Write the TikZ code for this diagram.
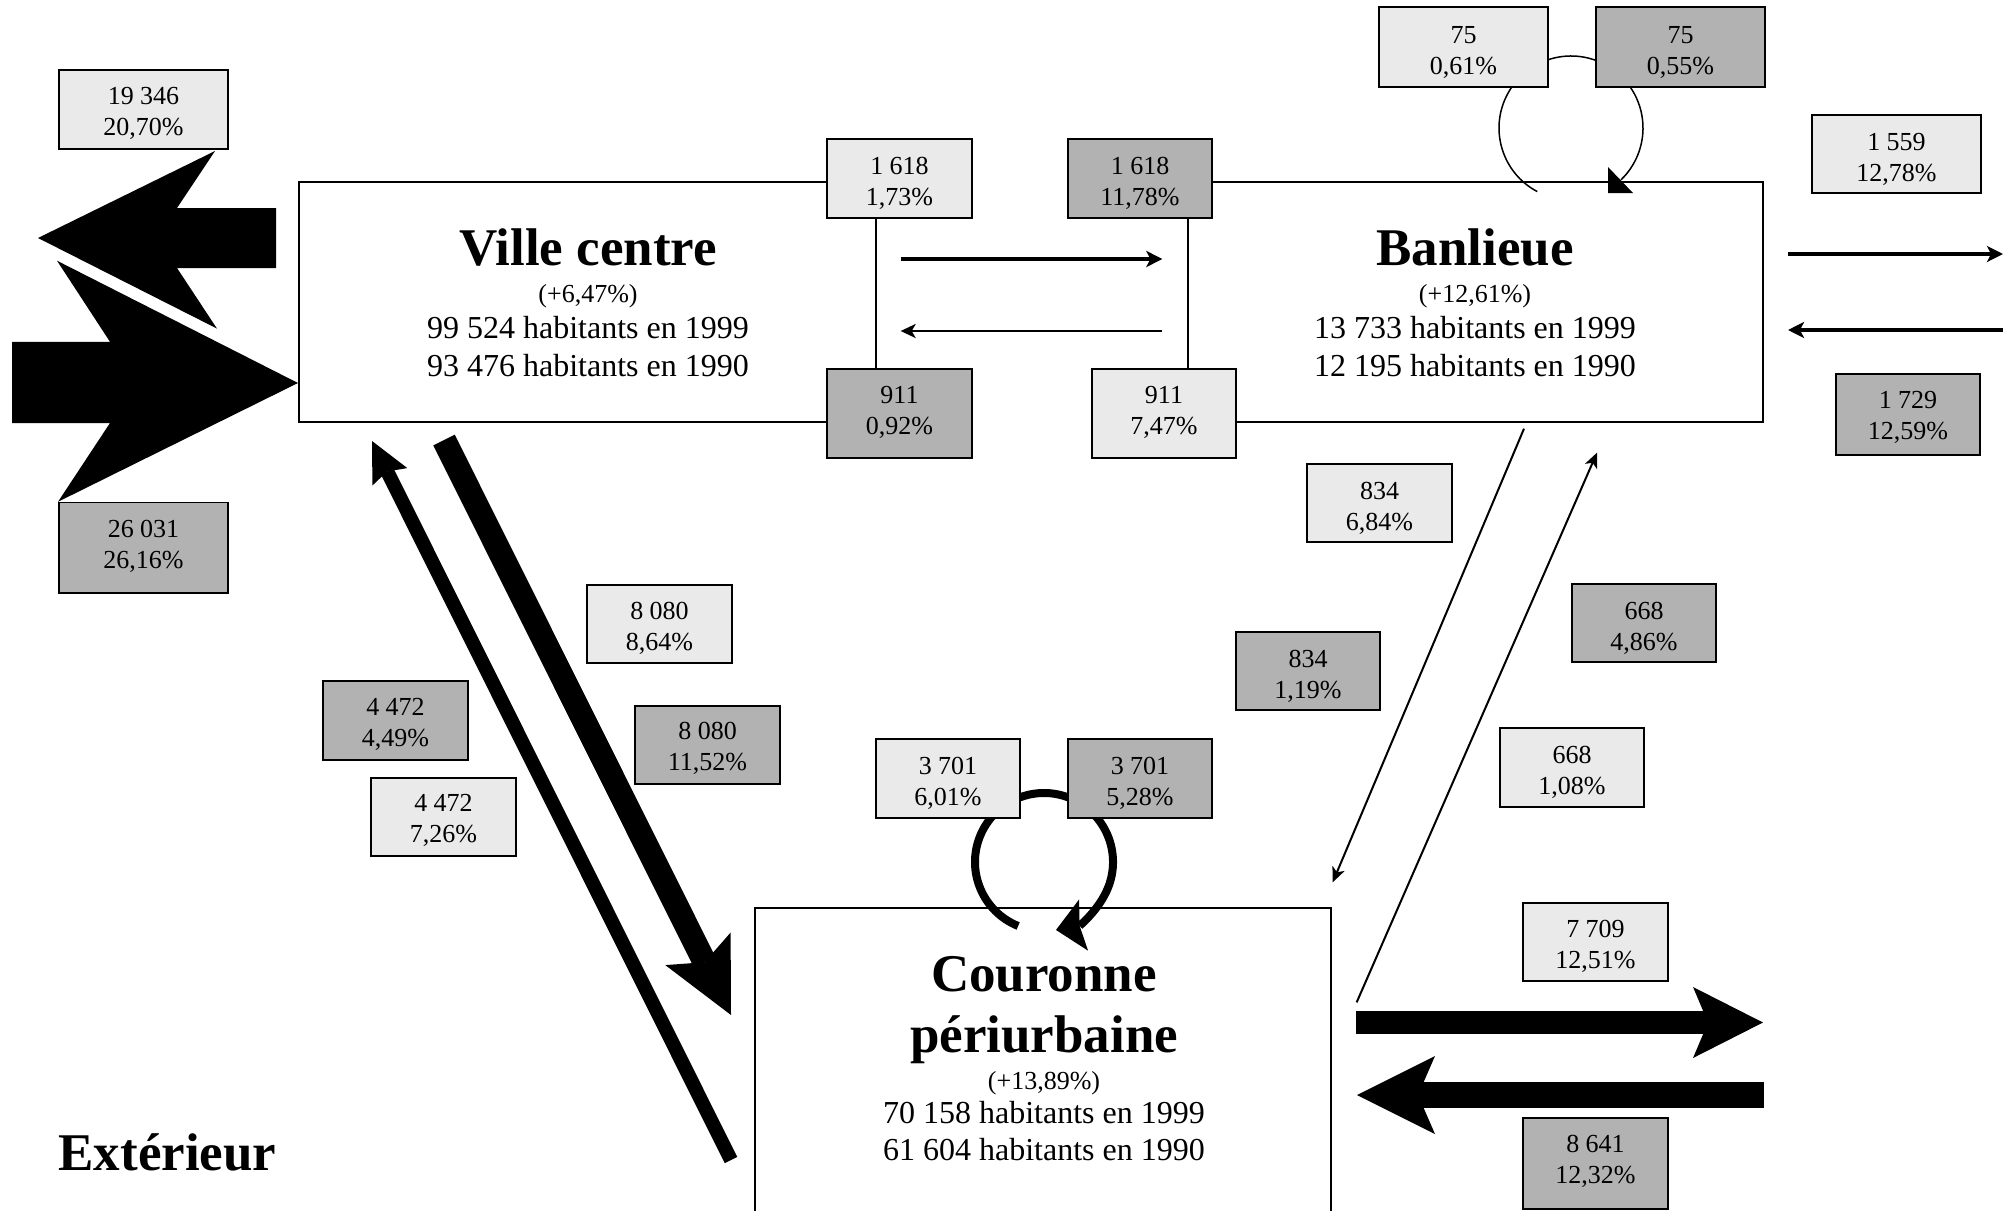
\documentclass[tikz,border=0pt]{standalone}
\usepackage{fontspec}
\setmainfont{Liberation Serif}
\usetikzlibrary{arrows.meta}
\definecolor{lightbox}{HTML}{EAEAEA}
\definecolor{darkbox}{HTML}{B2B2B2}
\newcommand\twol[3]{\raisebox{-#3pt}[\height][\depth]{\begin{tabular}{@{}c@{}}#1\\#2\end{tabular}}}
\begin{document}
\begin{tikzpicture}[x=1pt,y=-1pt,
  bx/.style={draw, line width=1.6pt, inner sep=0pt, font=\fontsize{26}{31}\selectfont},
  lb/.style={bx, fill=lightbox},
  db/.style={bx, fill=darkbox},
  sz/.style 2 args={minimum width=#1pt, minimum height=#2pt},
  zone/.style={draw, line width=1.3pt, fill=white, inner sep=0pt},
  ttl/.style={anchor=base, font=\fontsize{53}{60}\selectfont\bfseries},
  pct/.style={anchor=base, font=\fontsize{26}{31}\selectfont},
  hab/.style={anchor=base, font=\fontsize{32}{37}\selectfont},
  thin/.style={line width=2pt, -{Stealth[length=15pt,width=13pt,inset=4pt]}},
  mid/.style={line width=4pt, -{Stealth[length=16pt,width=16pt,inset=4pt]}}
]
\useasboundingbox (0,0) rectangle (2013,1210);
\clip (0,0) rectangle (2013,1210);

% main zones
\node[zone, sz={577}{240}] (vc) at (587.5,302) {};
\node[zone, sz={575}{240}] (bl) at (1475.5,302) {};
\node[zone, sz={576}{352}] (cp) at (1043,1084) {};

\node[ttl] (vct) at (588,265.5) {Ville centre};
\node[pct] (vcp) at (588,302) {(+6,47\%)};
\node[hab] (vch1) at (588,338) {99 524 habitants en 1999};
\node[hab] (vch2) at (588,376) {93 476 habitants en 1990};

\node[ttl] (blt) at (1475,265.5) {Banlieue};
\node[pct] (blp) at (1475,302) {(+12,61\%)};
\node[hab] (blh1) at (1475,338) {13 733 habitants en 1999};
\node[hab] (blh2) at (1475,376) {12 195 habitants en 1990};

\node[ttl] (cpt1) at (1044,991) {Couronne};
\node[ttl] (cpt2) at (1044,1052) {périurbaine};
\node[pct] (cpp) at (1044,1089) {(+13,89\%)};
\node[hab] (cph1) at (1044,1123) {70 158 habitants en 1999};
\node[hab] (cph2) at (1044,1160) {61 604 habitants en 1990};

\node[ttl, anchor=base west] (ext) at (55,1170) {Extérieur};

% big exterior arrows (left)
\fill (38,238) -- (215,151) -- (177,208) -- (276,208) -- (276,268) -- (177,268) -- (217,328.6) -- cycle;
\fill (298,383) -- (57,260.7) -- (110,341.8) -- (12,341.8) -- (12,423) -- (110,423) -- (58,501.8) -- cycle;

% Ville centre <-> Banlieue
\draw[mid] ([shift={(24,-43)}]vc.east) -- ([shift={(-25,-43)}]bl.west);
\draw[line width=2.5pt, -{Stealth[length=15pt,width=14pt,inset=4pt]}] ([shift={(-25,29)}]bl.west) -- ([shift={(24,29)}]vc.east);

% Banlieue <-> exterior (right)
\coordinate (re1) at (1788,254);
\coordinate (re2) at (2003,254);
\coordinate (re3) at (2003,330);
\coordinate (re4) at (1788,330);
\draw[mid] (re1) -- (re2);
\draw[mid] (re3) -- (re4);

% Banlieue <-> Couronne
\draw[thin] ([shift={(48.5,6)}]bl.south) -- ([shift={(1,-25)}]cp.north east);
\draw[thin] ([shift={(25,95)}]cp.north east) -- ([shift={(121.5,30)}]bl.south);

% Ville centre <-> Couronne
\coordinate (a1) at (444,440);
\coordinate (a2) at (731,1015);
\coordinate (b1) at (731,1160);
\coordinate (b2) at (372,441);
\draw[line width=24pt, -{Stealth[length=74pt,width=73pt,inset=15pt,line width=0pt]}] (a1) -- (a2);
\draw[line width=14pt, -{Stealth[length=40pt,width=39pt,inset=6pt,line width=0pt]}] (b1) -- (b2);

% Couronne <-> exterior
\coordinate (ce1) at (1356,1022.5);
\coordinate (ce2) at (1763,1022.5);
\coordinate (ce3) at (1764,1095);
\coordinate (ce4) at (1357,1095);
\draw[line width=23pt, -{Stealth[length=70pt,width=71pt,inset=15pt,line width=0pt]}] (ce1) -- (ce2);
\draw[line width=26pt, -{Stealth[length=78pt,width=78pt,inset=17pt,line width=0pt]}] (ce3) -- (ce4);

% loops
\draw[line width=1.5pt] (1571,128) ++(118:72) arc[start angle=118, end angle=406, radius=72];
\fill (1608,167) -- (1608,193) -- (1633,193) -- cycle;
\draw[line width=8pt, -{Stealth[length=28pt,width=52pt,inset=4pt,line width=0pt]}] (1044,862) ++(112:69) arc[start angle=112, end angle=440, radius=69];

% value boxes
\node[lb, sz={169}{79}] (e1) at (143.5,109.7) {\twol{19 346}{20,70\%}{4}};
\node[db, sz={169}{90.5}] (e2) at (143.5,547.8) {\twol{26 031}{26,16\%}{-1.5}};
\node[lb, sz={145}{79}] (v1) at (899.5,178.5) {\twol{1 618}{1,73\%}{5.3}};
\node[db, sz={144}{79}] (b1x) at (1140,178.5) {\twol{1 618}{11,78\%}{5.3}};
\node[db, sz={145}{89}] (v2) at (899.5,413.5) {\twol{911}{0,92\%}{-1}};
\node[lb, sz={144}{89}] (b2x) at (1164,413.5) {\twol{911}{7,47\%}{-1}};
\node[lb, sz={169}{80}] (t1) at (1463.5,47) {\twol{75}{0,61\%}{6}};
\node[db, sz={169}{80}] (t2) at (1680.5,47) {\twol{75}{0,55\%}{6}};
\node[lb, sz={169}{78}] (r1) at (1896.5,154) {\twol{1 559}{12,78\%}{5.5}};
\node[db, sz={144}{81}] (r2) at (1908,414.5) {\twol{1 729}{12,59\%}{3.5}};
\node[lb, sz={145}{78}] (d1) at (1379.5,503) {\twol{834}{6,84\%}{5.7}};
\node[db, sz={144}{78}] (d2) at (1308,671) {\twol{834}{1,19\%}{5.7}};
\node[db, sz={144}{78}] (d3) at (1644,623) {\twol{668}{4,86\%}{5.7}};
\node[lb, sz={144}{79}] (d4) at (1572,767.5) {\twol{668}{1,08\%}{5.2}};
\node[lb, sz={144}{79}] (c1) at (948,778.5) {\twol{3 701}{6,01\%}{5.2}};
\node[db, sz={144}{79}] (c2) at (1140,778.5) {\twol{3 701}{5,28\%}{5.2}};
\node[lb, sz={145}{78}] (w1) at (659.5,624) {\twol{8 080}{8,64\%}{4.5}};
\node[db, sz={145}{79}] (w2) at (395.5,720.5) {\twol{4 472}{4,49\%}{4}};
\node[db, sz={145}{78}] (w3) at (707.5,745) {\twol{8 080}{11,52\%}{3.3}};
\node[lb, sz={145}{78}] (w4) at (443.5,817) {\twol{4 472}{7,26\%}{3.3}};
\node[lb, sz={145}{78}] (o1) at (1595.5,942) {\twol{7 709}{12,51\%}{4.5}};
\node[db, sz={145}{91}] (o2) at (1595.5,1163.5) {\twol{8 641}{12,32\%}{-2}};
\end{tikzpicture}
\end{document}
